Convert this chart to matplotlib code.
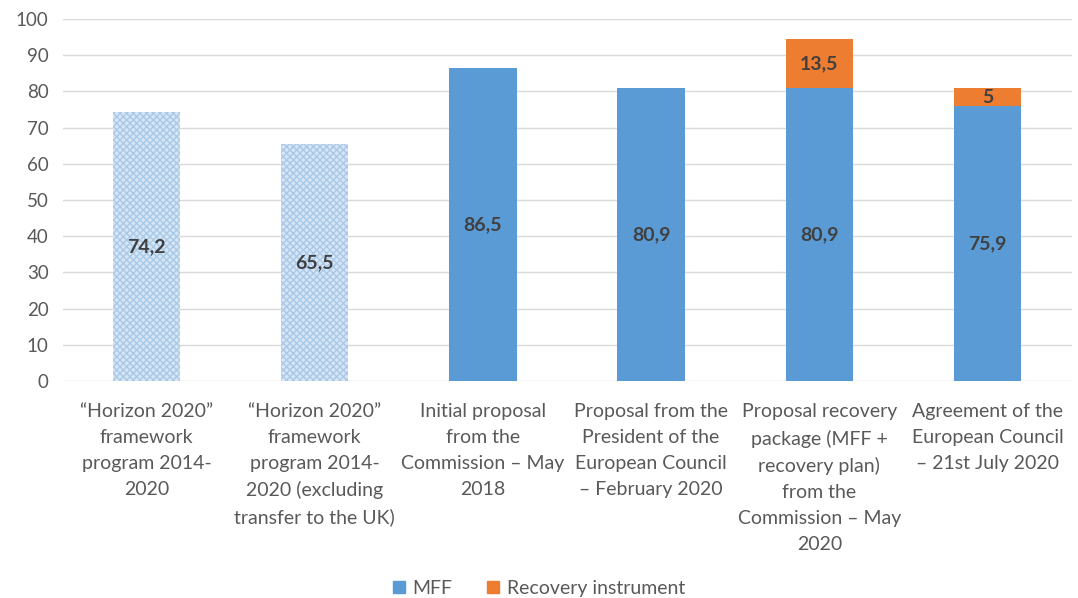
import matplotlib.pyplot as plt
import numpy as np
from matplotlib.patches import Patch

categories = [
    "\u201cHorizon 2020\u201d\nframework\nprogram 2014-\n2020",
    "\u201cHorizon 2020\u201d\nframework\nprogram 2014-\n2020 (excluding\ntransfer to the UK)",
    "Initial proposal\nfrom the\nCommission \u2013 May\n2018",
    "Proposal from the\nPresident of the\nEuropean Council\n\u2013 February 2020",
    "Proposal recovery\npackage (MFF +\nrecovery plan)\nfrom the\nCommission \u2013 May\n2020",
    "Agreement of the\nEuropean Council\n\u2013 21st July 2020",
]
mff = [74.2, 65.5, 86.5, 80.9, 80.9, 75.9]
recovery = [0, 0, 0, 0, 13.5, 5]
mff_labels = ["74,2", "65,5", "86,5", "80,9", "80,9", "75,9"]
recovery_labels = ["", "", "", "", "13,5", "5"]

plt.rcParams['font.family'] = ['Lato', 'DejaVu Sans']
text_col = '#595959'
blue = '#5B9BD5'
orange = '#ED7D31'

fig = plt.figure(figsize=(10.78, 5.98), dpi=100)
ax = fig.add_axes([0.058, 0.363, 0.936, 0.605])

x = np.arange(len(categories))
w = 0.4
for i in range(len(categories)):
    if i < 2:
        ax.bar(x[i], mff[i], w, color='#d6e6f5', edgecolor='#a9c9e8',
               hatch='xxxxx', linewidth=0, zorder=2)
    else:
        ax.bar(x[i], mff[i], w, color=blue, zorder=2)
    ax.text(x[i], mff[i] / 2, mff_labels[i], ha='center', va='center',
            fontsize=14, fontweight='bold', color='#404040', zorder=3)
ax.bar(x, recovery, w, bottom=mff, color=orange, zorder=2)
for i in range(len(categories)):
    if recovery[i] > 0:
        ax.text(x[i], mff[i] + recovery[i] / 2, recovery_labels[i], ha='center',
                va='center', fontsize=14, fontweight='bold', color='#404040', zorder=3)

ax.set_ylim(0, 100)
ax.set_xlim(-0.5, 5.5)
ax.set_yticks(range(0, 101, 10))
ax.yaxis.grid(True, color='#d9d9d9', linewidth=1)
ax.set_axisbelow(True)
for s in ax.spines.values():
    s.set_visible(False)
ax.tick_params(length=0, labelsize=13.5, labelcolor=text_col)
ax.tick_params(axis='y', pad=10)
ax.set_xticks(x)
ax.set_xticklabels(categories, fontsize=14, linespacing=1.63)
ax.tick_params(axis='x', pad=16)

handles = [Patch(color=blue, label='MFF'), Patch(color=orange, label='Recovery instrument')]
fig.legend(handles=handles, loc='center', bbox_to_anchor=(0.5, 0.016), ncol=2,
           frameon=False, fontsize=14, labelcolor=text_col, handlelength=0.6,
           handleheight=0.6, handletextpad=0.4, columnspacing=1.8)

fig.savefig('out.png', dpi=100)
